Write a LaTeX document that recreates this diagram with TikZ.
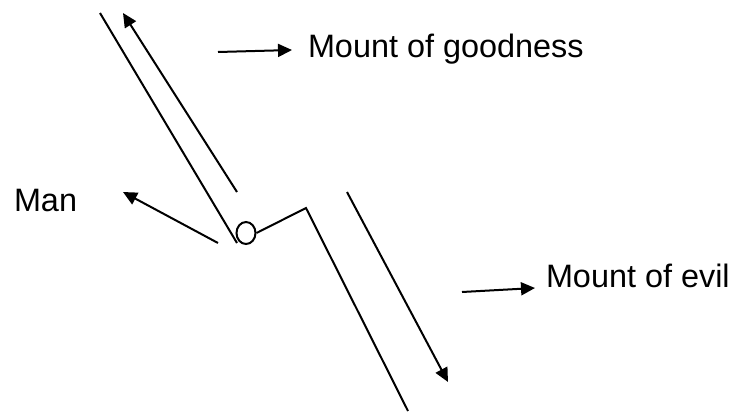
\documentclass[tikz,border=0pt]{standalone}
\usepackage{fontspec}
\setmainfont{Liberation Sans}
\usetikzlibrary{arrows.meta,shapes.geometric}
\tikzset{
  label text/.style={inner sep=0pt, anchor=base west},
  pointer/.style={->}
}
\begin{document}
\begin{tikzpicture}[x=0.5pt, y=-0.5pt, line width=1pt, >={Triangle[length=7pt,width=6.5pt]},
    font=\fontsize{16.2}{19}\selectfont]
  \useasboundingbox (0,0) rectangle (738,413);
  % the two mounts
  \node[draw, ellipse, minimum width=9.5pt, minimum height=11pt, inner sep=0pt] (man) at (246,233) {};
  \coordinate (goodTop) at (100,13);
  \coordinate (goodFoot) at (237,243);
  \coordinate (ridge) at (306,208);
  \coordinate (evilFoot) at (408,411);
  \draw (goodTop) -- (goodFoot);
  \draw (man.east) -- (ridge) -- (evilFoot);
  % directions
  \coordinate (upFrom) at (237,192);
  \coordinate (upTo) at (123,13);
  \coordinate (downFrom) at (347,192);
  \coordinate (downTo) at (448,382);
  \draw[pointer] (upFrom) -- (upTo);
  \draw[pointer] (downFrom) -- (downTo);
  % labels
  \node[label text] (goodness) at (307,57) {Mount of goodness};
  \node[label text] (evil) at (545,287) {Mount of evil};
  \node[label text] (manText) at (13,211) {Man};
  \coordinate (goodFrom) at (218,52);
  \coordinate (goodTo) at (292,50);
  \coordinate (evilFrom) at (462,292);
  \coordinate (evilTo) at (535,288);
  \coordinate (manFrom) at (218,243);
  \coordinate (manTo) at (123,192);
  \draw[pointer] (goodFrom) -- (goodTo);
  \draw[pointer] (evilFrom) -- (evilTo);
  \draw[pointer] (manFrom) -- (manTo);
\end{tikzpicture}
\end{document}
